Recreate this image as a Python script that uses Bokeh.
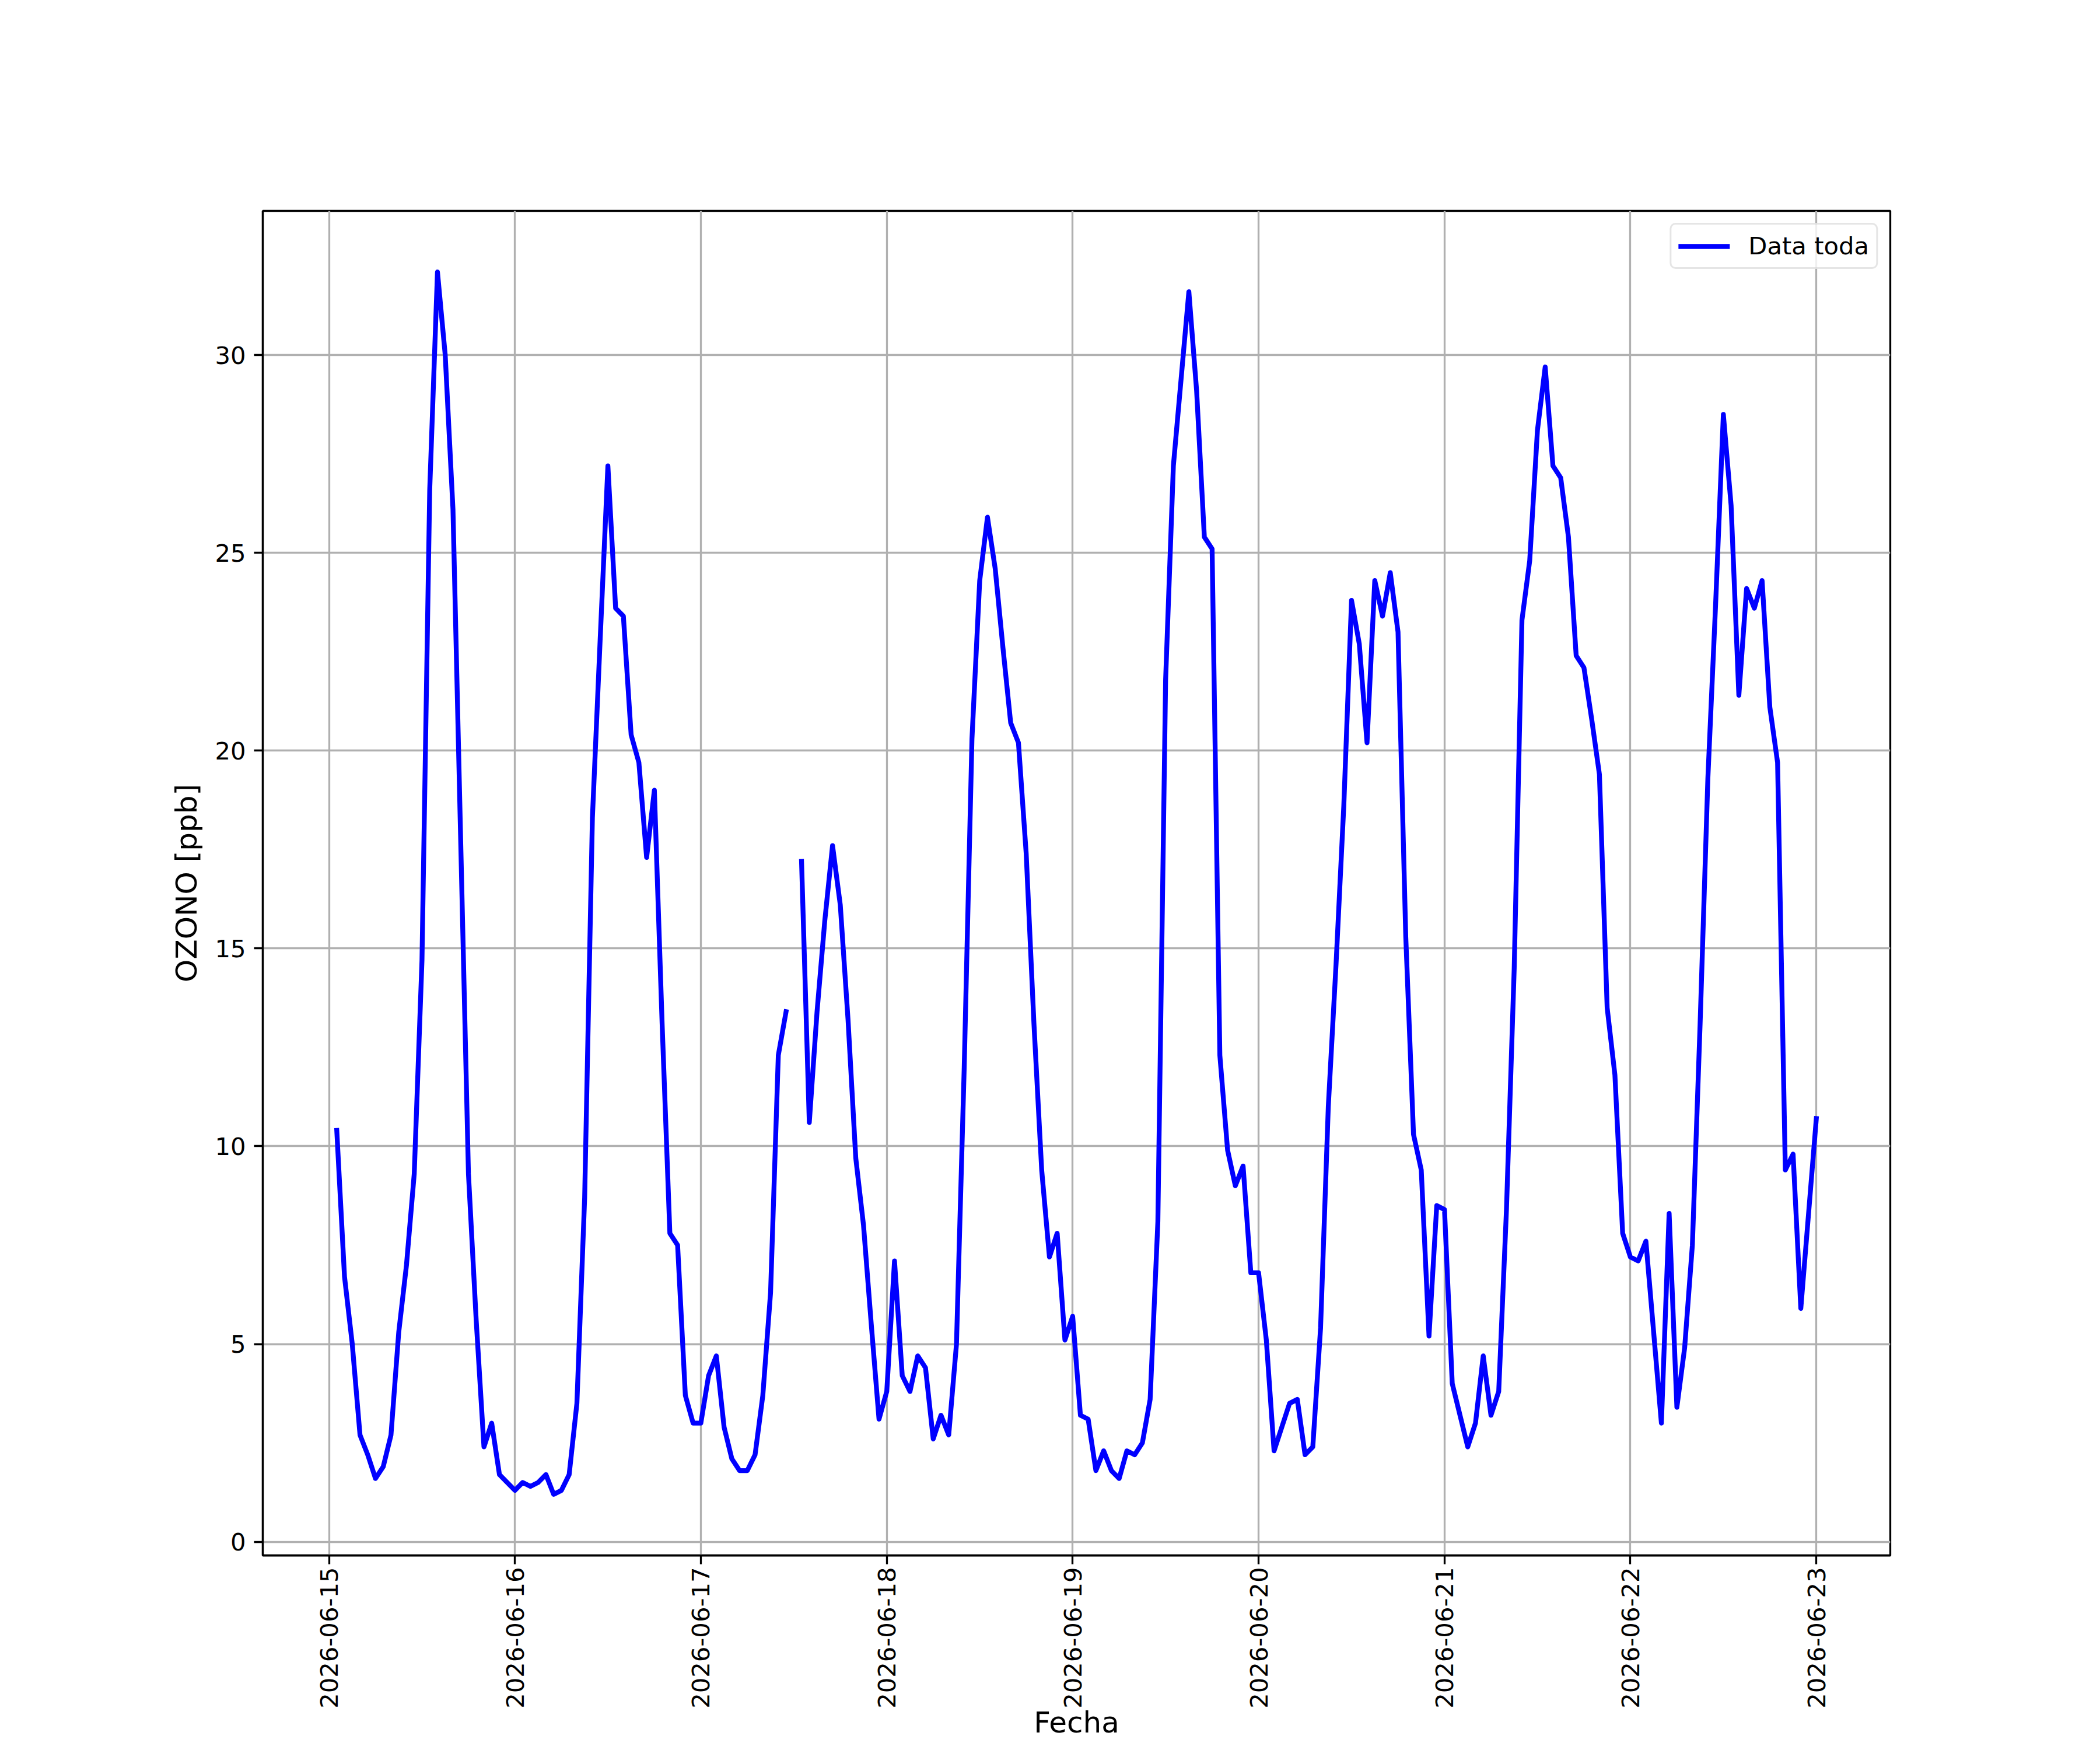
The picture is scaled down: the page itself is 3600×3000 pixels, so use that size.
import numpy as np
import pandas as pd
from bokeh.plotting import figure
from bokeh.models import Range1d, FixedTicker, DatetimeTickFormatter
from bokeh.embed import file_html
from bokeh.resources import INLINE

nan = float("nan")

# hourly ozone values, first value at 2026-06-15 01:00
d15 = [10.4, 6.7, 5.0, 2.7, 2.2, 1.6, 1.9, 2.7, 5.3, 7.0, 9.3, 14.7, 26.6, 32.1,
       30.0, 26.1, 17.7, 9.3, 5.6, 2.4, 3.0, 1.7, 1.5]
d16 = [1.3, 1.5, 1.4, 1.5, 1.7, 1.2, 1.3, 1.7, 3.5, 8.7, 18.3, 22.8, 27.2, 23.6,
       23.4, 20.4, 19.7, 17.3, 19.0, 13.1, 7.8, 7.5, 3.7, 3.0]
d17 = [3.0, 4.2, 4.7, 2.9, 2.1, 1.8, 1.8, 2.2, 3.7, 6.3, 12.3, 13.4, nan, 17.2,
       10.6, 13.4, 15.7, 17.6, 16.1, 13.2, 9.7, 8.0, 5.5, 3.1]
d18 = [3.8, 7.1, 4.2, 3.8, 4.7, 4.4, 2.6, 3.2, 2.7, 5.0, 12.0, 20.3, 24.3, 25.9,
       24.6, 22.6, 20.7, 20.2, 17.4, 13.1, 9.4, 7.2, 7.8, 5.1]
d19 = [5.7, 3.2, 3.1, 1.8, 2.3, 1.8, 1.6, 2.3, 2.2, 2.5, 3.6, 8.1, 21.8, 27.2,
       29.4, 31.6, 29.1, 25.4, 25.1, 12.3, 9.9, 9.0, 9.5, 6.8]
d20 = [6.8, 5.1, 2.3, 2.9, 3.5, 3.6, 2.2, 2.4, 5.4, 11.0, 14.6, 18.6, 23.8, 22.7,
       20.2, 24.3, 23.4, 24.5, 23.0, 15.3, 10.3, 9.4, 5.2, 8.5]
d21 = [8.4, 4.0, 3.2, 2.4, 3.0, 4.7, 3.2, 3.8, 8.4, 14.5, 23.3, 24.8, 28.1, 29.7,
       27.2, 26.9, 25.4, 22.4, 22.1, 20.8, 19.4, 13.5, 11.8, 7.8]
d22 = [7.2, 7.1, 7.6, 5.3, 3.0, 8.3, 3.4, 4.9, 7.5, 13.1, 19.3, 23.7, 28.5, 26.2,
       21.4, 24.1, 23.6, 24.3, 21.1, 19.7, 9.4, 9.8, 5.9, 8.3]
d23 = [10.7]

START = "2026-06-15 01:00"
TICK_DATES = ["2026-06-15", "2026-06-16", "2026-06-17", "2026-06-18", "2026-06-19",
              "2026-06-20", "2026-06-21", "2026-06-22", "2026-06-23"]
YTICKS = [0, 5, 10, 15, 20, 25, 30]
LEGEND_LABEL = "Data toda"
X_LABEL = "Fecha"
Y_LABEL = "OZONO [ppb]"

ozono = np.array(d15 + d16 + d17 + d18 + d19 + d20 + d21 + d22 + d23, dtype=float)
fechas = pd.date_range(START, periods=len(ozono), freq="h")


def ms(ts):
    return pd.Timestamp(ts).value / 1e6


# matplotlib-like 5% margins
x0, x1 = ms(fechas[0]), ms(fechas[-1])
xm = 0.05 * (x1 - x0)
y0, y1 = np.nanmin(ozono), np.nanmax(ozono)
ym = 0.05 * (y1 - y0)

FONT = "DejaVu Sans"
LW = 3.3

p = figure(width=3584, height=2984, x_axis_type="datetime",
           output_backend="svg", toolbar_location=None,
           x_range=Range1d(x0 - xm, x1 + xm), y_range=Range1d(y0 - ym, y1 + ym),
           min_border_left=450, min_border_right=344,
           min_border_top=361, min_border_bottom=312)
p.background_fill_color = "white"
p.border_fill_color = "white"
p.outline_line_color = "black"
p.outline_line_width = LW
p.outline_line_alpha = 1.0

p.xaxis.ticker = FixedTicker(ticks=[ms(d) for d in TICK_DATES])
p.yaxis.ticker = FixedTicker(ticks=YTICKS)
fmt = "%Y-%m-%d"
p.xaxis.formatter = DatetimeTickFormatter(
    microseconds=fmt, milliseconds=fmt, seconds=fmt, minsec=fmt, minutes=fmt,
    hourmin=fmt, hours=fmt, days=fmt, months=fmt, years=fmt)
p.xaxis.major_label_orientation = np.pi / 2

for ax in (p.xaxis[0], p.yaxis[0]):
    ax.axis_line_width = LW
    ax.axis_line_color = "black"
    ax.major_tick_line_width = LW
    ax.major_tick_line_color = "black"
    ax.major_tick_out = 15
    ax.major_tick_in = 0
    ax.minor_tick_out = 0
    ax.minor_tick_in = 0
    ax.major_label_text_font = FONT
    ax.major_label_text_font_size = "41.7px"
    ax.major_label_text_color = "black"
    ax.axis_label_text_font = FONT
    ax.axis_label_text_font_size = "50px"
    ax.axis_label_text_font_style = "normal"
    ax.axis_label_text_color = "black"

p.xaxis.major_label_standoff = 5
p.xaxis.axis_label = X_LABEL
p.xaxis.axis_label_standoff = -8
p.xaxis.axis_label_text_line_height = 1.0
p.yaxis.major_label_standoff = 14
p.yaxis.axis_label = Y_LABEL
p.yaxis.axis_label_standoff = 16

p.grid.grid_line_color = "#b0b0b0"
p.grid.grid_line_width = LW

p.line(fechas, ozono, line_color="#0000ff", line_width=8.3,
       line_join="round", line_cap="square", legend_label=LEGEND_LABEL)

lg = p.legend[0]
lg.location = "top_right"
lg.margin = 21
lg.padding = 12
lg.spacing = 0
lg.glyph_width = 88
lg.glyph_height = 42
lg.label_standoff = 32
lg.label_text_font = FONT
lg.label_text_font_size = "41.7px"
lg.label_text_color = "black"
lg.border_line_color = "#cccccc"
lg.border_line_width = LW
lg.background_fill_color = "white"
lg.background_fill_alpha = 0.8
try:
    lg.border_radius = 10
except Exception:
    pass

open("out.html", "w").write(file_html(p, INLINE))
